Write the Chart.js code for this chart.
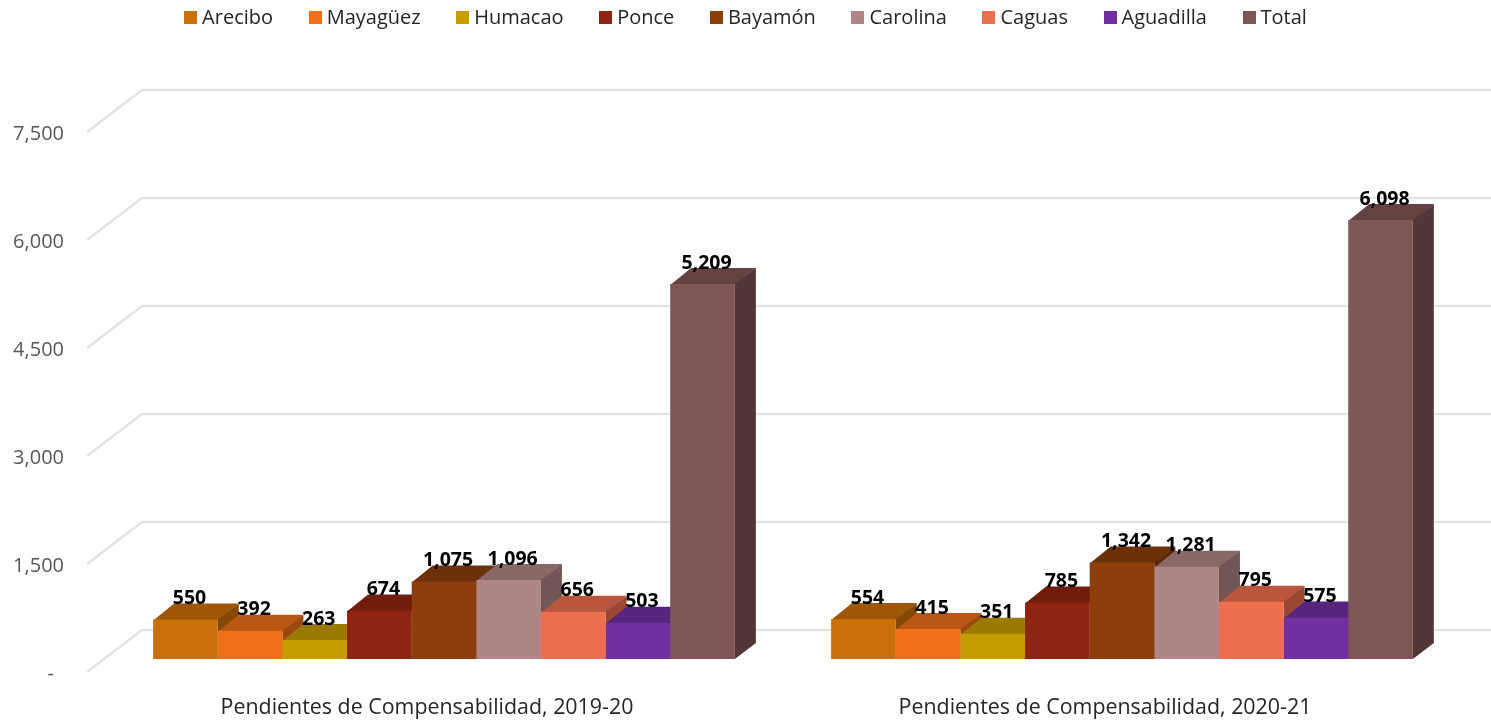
<!DOCTYPE html>
<html lang="es">

<head>
    <meta charset="UTF-8">
    <title>Pendientes de Compensabilidad</title>
    <style>
        body {
            margin: 0;
            background: #fff;
            font-family: 'Open Sans', sans-serif;
        }

        .chart-box {
            position: relative;
            width: 1491px;
            height: 721px;
        }

        #legend {
            position: absolute;
            top: 4px;
            left: 0;
            width: 100%;
            display: flex;
            justify-content: center;
            gap: 35.6px;
            font-size: 20px;
            line-height: 26px;
            color: #262626;
        }

        #legend span.item {
            display: flex;
            align-items: center;
        }

        #legend i {
            display: block;
            width: 13px;
            height: 13px;
            margin-right: 5px;
        }
    </style>
</head>

<body>
    <div class="chart-box">
        <canvas id="chart"></canvas>
        <div id="legend"></div>
    </div>
    <script src="https://cdn.jsdelivr.net/npm/chart.js"></script>
    <script>
        const periods = ['Pendientes de Compensabilidad, 2019-20', 'Pendientes de Compensabilidad, 2020-21'];
        const regions = ['Arecibo', 'Mayagüez', 'Humacao', 'Ponce', 'Bayamón', 'Carolina', 'Caguas', 'Aguadilla', 'Total'];
        const arecibo = [550, 554];
        const mayaguez = [392, 415];
        const humacao = [263, 351];
        const ponce = [674, 785];
        const bayamon = [1075, 1342];
        const carolina = [1096, 1281];
        const caguas = [656, 795];
        const aguadilla = [503, 575];
        const total = [5209, 6098];
        const seriesValues = [arecibo, mayaguez, humacao, ponce, bayamon, carolina, caguas, aguadilla, total];
        const colors = ['#C97008', '#F0701A', '#C79C00', '#8F2510', '#8C3F0C', '#B08585', '#ED6F50', '#7030A0', '#805555'];
        const yTicks = [0, 1500, 3000, 4500, 6000, 7500];

        // fake 3D depth of the bars and of the back wall
        const barDepth = { x: 21, y: 16 };
        const wall = { left: 87, right: 142, front: 13, back: 29 };

        function shade(hex, f) {
            const n = parseInt(hex.slice(1), 16);
            const r = Math.round((n >> 16) * f);
            const g = Math.round(((n >> 8) & 255) * f);
            const b = Math.round((n & 255) * f);
            return `rgb(${r}, ${g}, ${b})`;
        }

        function poly(ctx, pts, fill) {
            ctx.beginPath();
            pts.forEach((p, i) => i ? ctx.lineTo(p[0], p[1]) : ctx.moveTo(p[0], p[1]));
            ctx.closePath();
            ctx.fillStyle = fill;
            ctx.fill();
        }

        const bars3d = {
            id: 'bars3d',
            beforeDatasetsDraw(chart) {
                const ctx = chart.ctx;
                const y = chart.scales.y;
                ctx.save();

                // back wall grid and the y labels
                ctx.strokeStyle = '#E3E3E3';
                ctx.lineJoin = 'round';
                ctx.lineWidth = 2.5;
                ctx.textBaseline = 'middle';
                ctx.textAlign = 'right';
                ctx.font = "20px 'Open Sans'";
                yTicks.forEach(v => {
                    const py = y.getPixelForValue(v);
                    ctx.beginPath();
                    ctx.moveTo(wall.left, py + wall.front);
                    ctx.lineTo(wall.right, py - wall.back);
                    ctx.lineTo(chart.width, py - wall.back);
                    ctx.stroke();
                    ctx.fillStyle = '#595959';
                    if (v === 0) {
                        ctx.fillText('-', 54, py + wall.front + 2);
                    } else {
                        ctx.fillText(v.toLocaleString('en-US'), 64, py + wall.front + 2);
                    }
                });

                // top and side faces, left to right so neighbours overlap properly
                periods.forEach((p, i) => {
                    chart.data.datasets.forEach((ds, d) => {
                        const bar = chart.getDatasetMeta(d).data[i];
                        const l = bar.x - bar.width / 2;
                        const r = bar.x + bar.width / 2;
                        poly(ctx, [[l, bar.y + 1], [r, bar.y + 1], [r + barDepth.x, bar.y - barDepth.y], [l + barDepth.x, bar.y - barDepth.y]], shade(colors[d], 0.78));
                        poly(ctx, [[r, bar.y], [r + barDepth.x, bar.y - barDepth.y], [r + barDepth.x, bar.base - barDepth.y], [r, bar.base]], shade(colors[d], 0.65));
                    });
                });
                ctx.restore();
            },
            afterDatasetsDraw(chart) {
                const ctx = chart.ctx;
                ctx.save();
                ctx.fillStyle = '#000';
                ctx.font = "bold 19.5px 'Open Sans'";
                ctx.textAlign = 'center';
                ctx.textBaseline = 'middle';
                chart.data.datasets.forEach((ds, d) => {
                    chart.getDatasetMeta(d).data.forEach((bar, i) => {
                        ctx.fillText(ds.data[i].toLocaleString('en-US'), bar.x + 4, bar.y - 21);
                    });
                });
                ctx.restore();
            }
        };

        new Chart(document.getElementById('chart'), {
            type: 'bar',
            data: {
                labels: periods,
                datasets: regions.map((name, i) => ({
                    label: name,
                    data: seriesValues[i],
                    backgroundColor: colors[i],
                    borderWidth: 0,
                    categoryPercentage: 0.858,
                    barPercentage: 1
                }))
            },
            options: {
                responsive: true,
                maintainAspectRatio: false,
                animation: false,
                layout: {
                    padding: { top: 119, left: 105, right: 30, bottom: 0 }
                },
                plugins: {
                    legend: { display: false },
                    tooltip: { enabled: false }
                },
                scales: {
                    x: {
                        grid: { display: false },
                        border: { display: false },
                        afterFit(scale) {
                            scale.height = 62;
                        },
                        ticks: {
                            color: '#262626',
                            font: { family: "'Open Sans'", size: 21.4 },
                            padding: 28,
                            labelOffset: -17,
                            maxRotation: 0
                        }
                    },
                    y: {
                        display: false,
                        min: 0,
                        max: 7500
                    }
                }
            },
            plugins: [bars3d]
        });

        // legend
        const legendBox = document.getElementById('legend');
        regions.forEach((name, i) => {
            const item = document.createElement('span');
            item.className = 'item';
            item.innerHTML = `<i style="background:${colors[i]}"></i>${name}`;
            legendBox.appendChild(item);
        });
    </script>
</body>

</html>
